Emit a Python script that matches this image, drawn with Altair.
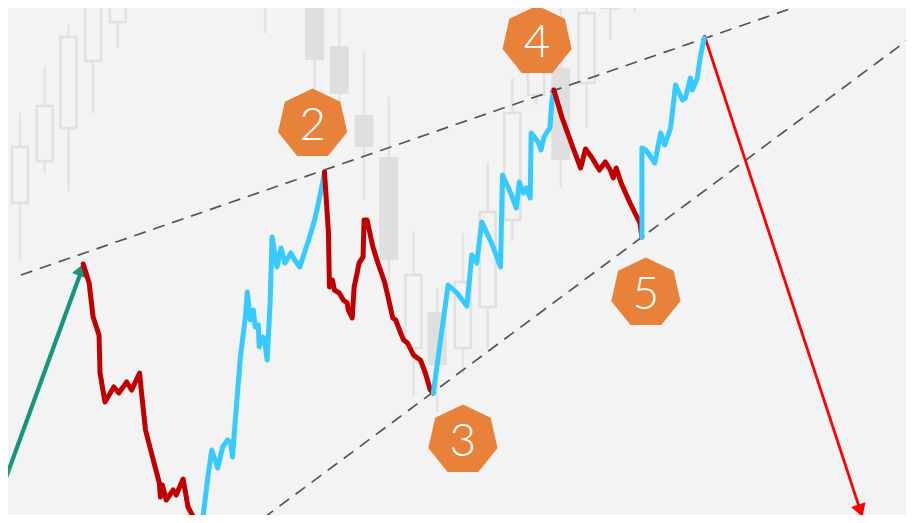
import math
import altair as alt
import pandas as pd

# ---------------- data ----------------
# background candles: time, high, low, open, close, filled(1) / hollow(0)
candle_t = [15, 40, 64, 89, 114, 263, 288, 313, 338, 363, 388, 413, 437, 463, 488, 513, 537, 562, 588, 612, 637]
candle_high = [410, 456, 498, 533, 533, 560, 580, 540, 518, 471, 426, 292, 235, 290, 360, 445, 503, 530, 535, 535, 550]
candle_low = [263, 351, 332, 410, 475, 490, 520, 433, 413, 323, 238, 127, 111, 148, 173, 283, 418, 335, 395, 483, 511]
candle_open = [320, 362, 395, 462, 501, 535, 540, 463, 429, 376, 263, 175, 158, 175, 216, 303, 428, 363, 440, 515, 530]
candle_close = [376, 417, 486, 528, 528, 553, 560, 528, 477, 408, 366, 248, 211, 241, 311, 410, 473, 455, 510, 528, 540]
candle_filled = [0, 0, 0, 0, 0, 0, 0, 1, 1, 1, 1, 0, 1, 0, 0, 0, 0, 1, 0, 0, 0]

# wave legs (time, price)
leg1_t = [79, 85, 89, 95, 96, 101, 110, 115, 123, 128, 136, 138, 142, 148, 156, 157, 159, 163, 170, 173, 180, 185, 192, 198]
leg1_p = [259, 240, 206, 188, 150, 121, 136, 130, 141, 133, 150, 130, 93, 70, 40, 26, 38, 23, 33, 28, 44, 16, 3, -12]

leg2_t = [198, 205, 209, 215, 220, 225, 228, 230, 233, 238, 243, 245, 248, 251, 253, 256, 257, 260, 262, 265, 268,
          270, 275, 279, 283, 289, 293, 298, 307, 313, 316, 321, 323]
leg2_p = [-12, 46, 73, 55, 76, 83, 81, 66, 106, 166, 206, 231, 203, 213, 196, 198, 176, 186, 185, 163, 220,
          286, 256, 275, 260, 270, 263, 256, 283, 303, 316, 340, 351]

leg3_t = [323, 327, 328, 331, 333, 338, 342, 346, 347, 351, 353, 356, 358, 362, 363, 366, 372, 377, 382, 384, 388,
          392, 395, 400, 403, 407, 413, 417, 420, 425, 430, 433]
leg3_p = [351, 290, 236, 243, 233, 230, 223, 220, 213, 205, 236, 250, 260, 266, 303, 303, 276, 260, 246, 240, 223,
          205, 203, 190, 183, 180, 168, 165, 163, 150, 133, 130]

leg4_t = [433, 448, 457, 467, 472, 477, 482, 492, 501, 503, 510, 517, 520, 524, 527, 531, 532, 539, 542, 545, 548,
          551, 553, 555]
leg4_p = [130, 238, 230, 217, 268, 260, 301, 280, 256, 348, 333, 315, 341, 330, 335, 325, 390, 381, 373, 386, 391,
          395, 423, 433]

leg5_t = [555, 563, 574, 582, 587, 593, 601, 607, 612, 615, 618, 623, 632, 642, 644]
leg5_p = [433, 406, 376, 355, 374, 366, 353, 361, 353, 345, 355, 340, 320, 300, 286]

leg6_t = [644, 644, 648, 657, 663, 667, 673, 678, 685, 688, 693, 695, 700, 703, 707]
leg6_p = [286, 375, 373, 360, 390, 378, 395, 438, 423, 425, 445, 433, 445, 466, 485]

# trend lines (two anchor points each)
upper_t = [16, 840]
upper_p = [248, 530]
lower_t = [245, 914]
lower_p = [-7, 484]

# arrows (start -> tip)
green_t = [0, 80]
green_p = [43, 260]
red_t = [707, 867]
red_p = [488, 6]

# wave point labels
label_text = ["2", "3", "4", "5"]
label_t = [311, 463, 538, 648]
label_p = [399, 83, 482, 230]

# ---------------- styles ----------------
BG = "#f3f3f3"
RED = "#c00000"
CYAN = "#36caff"
ORANGE = "#e8813a"
HEPTAGON = ("M0,-1L0.7818,-0.6235L0.9749,0.2225L0.4339,0.901L-0.4339,0.901"
            "L-0.9749,0.2225L-0.7818,-0.6235Z")

W, H = 898, 507
xs = alt.Scale(domain=[8, 906], nice=False, zero=False)
ys = alt.Scale(domain=[8, 515], nice=False, zero=False)


def X(f):
    return alt.X(f, type="quantitative", scale=xs, axis=None)


def Y(f):
    return alt.Y(f, type="quantitative", scale=ys, axis=None)


candles = pd.DataFrame({"t": candle_t, "high": candle_high, "low": candle_low,
                        "open": candle_open, "close": candle_close, "filled": candle_filled})

wicks = alt.Chart(candles).mark_rule(color="#e3e3e3", strokeWidth=2.5, clip=True).encode(
    x=X("t"), y=Y("high"), y2="low")
bodies_filled = alt.Chart(candles).transform_filter("datum.filled == 1").mark_bar(
    size=19, color="#dfdfdf", clip=True).encode(x=X("t"), y=Y("open"), y2="close")
bodies_hollow = alt.Chart(candles).transform_filter("datum.filled == 0").mark_bar(
    size=16, fill=BG, stroke="#e0e0e0", strokeWidth=2.5, clip=True).encode(x=X("t"), y=Y("open"), y2="close")

trend = pd.concat([
    pd.DataFrame({"t": upper_t, "p": upper_p, "line": "upper"}),
    pd.DataFrame({"t": lower_t, "p": lower_p, "line": "lower"}),
])
trend_lines = alt.Chart(trend).mark_line(color="#555555", strokeWidth=1.7, strokeDash=[12, 8], clip=True).encode(
    x=X("t"), y=Y("p"), detail="line:N")


def arrow(ts, ps, color, width, head_size):
    t0, t1 = ts
    p0, p1 = ps
    L = math.hypot(t1 - t0, p1 - p0)
    ux, uy = (t1 - t0) / L, (p1 - p0) / L
    h = math.sqrt(3) * (math.sqrt(head_size) / 2) / 2
    ct, cp = t1 - ux * h, p1 - uy * h
    ang = math.degrees(math.atan2(ux, uy)) % 360
    shaft = alt.Chart(pd.DataFrame({"t": [t0, ct], "p": [p0, cp]})).mark_line(
        color=color, strokeWidth=width, clip=True).encode(x=X("t"), y=Y("p"))
    head = alt.Chart(pd.DataFrame({"t": [ct], "p": [cp]})).mark_point(
        shape="triangle-up", size=head_size, filled=True, color=color, opacity=1,
        angle=ang, clip=True).encode(x=X("t"), y=Y("p"))
    return shaft + head


green_arrow = arrow(green_t, green_p, "#16967a", 4.2, 250)
red_arrow = arrow(red_t, red_p, "#ff0000", 2.8, 230)

legs = []
for i, (lt, lp) in enumerate([(leg1_t, leg1_p), (leg2_t, leg2_p), (leg3_t, leg3_p),
                               (leg4_t, leg4_p), (leg5_t, leg5_p), (leg6_t, leg6_p)]):
    legs.append(pd.DataFrame({"t": lt, "p": lp, "leg": i + 1,
                              "dir": "down" if i % 2 == 0 else "up",
                              "idx": range(len(lt))}))
wave = pd.concat(legs)
wave_lines = alt.Chart(wave).mark_line(strokeWidth=5, strokeCap="round", strokeJoin="round", clip=True).encode(
    x=X("t"), y=Y("p"), detail="leg:N", order="idx:Q",
    color=alt.Color("dir:N", scale=alt.Scale(domain=["down", "up"], range=[RED, CYAN]), legend=None))

labels = pd.DataFrame({"txt": label_text, "t": label_t, "p": label_p})
badges = alt.Chart(labels).mark_point(shape=HEPTAGON, size=5041, filled=True, color=ORANGE, opacity=1,
                                      strokeWidth=0).encode(x=X("t"), y=Y("p"))
badge_text = alt.Chart(labels).mark_text(font="Lato", fontWeight=300, fontSize=46, color="white",
                                         align="center", baseline="middle", dy=2).encode(
    x=X("t"), y=Y("p"), text="txt:N")

chart = alt.layer(
    wicks, bodies_filled, bodies_hollow, trend_lines, green_arrow, red_arrow, wave_lines, badges, badge_text
).properties(
    width=W, height=H, padding=0, autosize=alt.AutoSizeParams(type="none"), background=BG
).configure_view(stroke=None)

chart.save("out.html", embed_options={"renderer": "svg", "actions": False})
